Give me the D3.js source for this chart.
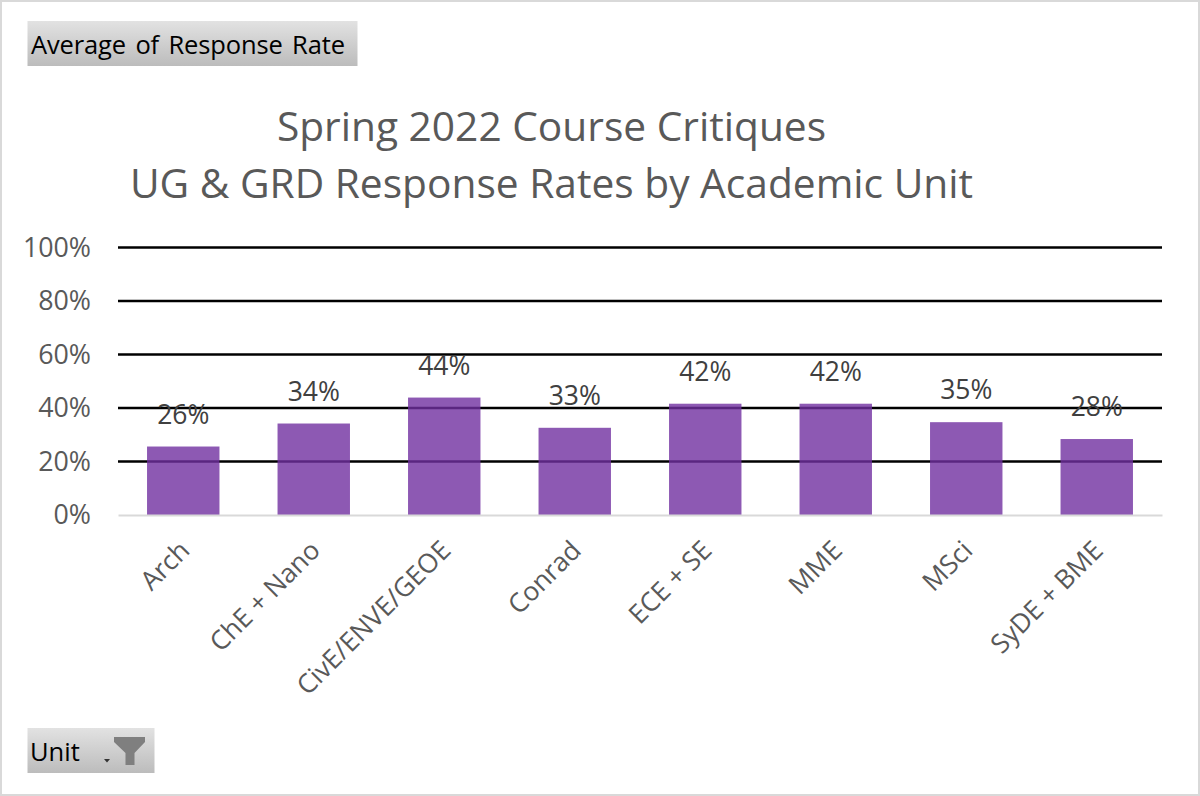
<!DOCTYPE html>
<html>
<head>
<meta charset="utf-8">
<script src="https://cdn.jsdelivr.net/npm/d3@7/dist/d3.min.js"></script>
<style>
  html, body { margin: 0; padding: 0; background: #fff; }
  svg { display: block; }
  svg text { font-family: "Open Sans", "Noto Sans", sans-serif; }
</style>
</head>
<body>
<svg id="chart" width="1200" height="796"></svg>
<script>
const units = ["Arch", "ChE + Nano", "CivE/ENVE/GEOE", "Conrad", "ECE + SE", "MME", "MSci", "SyDE + BME"];
const responseRates = [0.256, 0.342, 0.439, 0.326, 0.416, 0.416, 0.347, 0.284];
const rateTicks = [0, 0.2, 0.4, 0.6, 0.8, 1];
const titleLines = ["Spring 2022 Course Critiques", "UG & GRD Response Rates by Academic Unit"];

const svg = d3.select("#chart");
const width = 1200, height = 796;
const plot = { left: 118, right: 1162, top: 247.5, bottom: 515 };

const x = d3.scaleBand().domain(units).range([plot.left, plot.right]).paddingInner(0.445).paddingOuter(0.2225);
const y = d3.scaleLinear().domain([0, 1]).range([plot.bottom, plot.top]);
const pct = d3.format(".0%");

// Button-style field gradient
const defs = svg.append("defs");
const grad = defs.append("linearGradient").attr("id", "fieldFill").attr("x1", 0).attr("y1", 0).attr("x2", 0).attr("y2", 1);
grad.append("stop").attr("offset", "0%").attr("stop-color", "#e2e2e2");
grad.append("stop").attr("offset", "100%").attr("stop-color", "#bcbcbc");

// Outer frame
svg.append("rect").attr("x", 1).attr("y", 1).attr("width", width - 2).attr("height", height - 2)
  .attr("fill", "#fff").attr("stroke", "#d9d9d9").attr("stroke-width", 2);

// Pivot field buttons
svg.append("rect").attr("x", 27.5).attr("y", 21).attr("width", 330).attr("height", 45).attr("fill", "url(#fieldFill)");
svg.append("text").attr("x", 31).attr("y", 54).attr("font-size", 25.5).attr("fill", "#000")
  .attr("word-spacing", 3).attr("textLength", 314).text("Average of Response Rate");

svg.append("rect").attr("x", 27.5).attr("y", 728).attr("width", 127).attr("height", 45).attr("fill", "url(#fieldFill)");
svg.append("text").attr("x", 30).attr("y", 761).attr("font-size", 25.5).attr("fill", "#000").text("Unit");
svg.append("path").attr("d", "M104,759h6l-3,3.5z").attr("fill", "#333");
svg.append("path").attr("d", "M114,737h31v5l-10.5,11v12h-9v-12l-11.5,-11z").attr("fill", "#7f7f7f");

// Title
svg.append("g").selectAll("text").data(titleLines).join("text")
  .attr("x", 551.5)
  .attr("y", (d, i) => i === 0 ? 141 : 198)
  .attr("text-anchor", "middle").attr("font-size", 40.7).attr("fill", "#595959")
  .text(d => d);

// Horizontal gridlines
svg.append("g").selectAll("line").data(rateTicks.filter(t => t > 0)).join("line")
  .attr("x1", plot.left).attr("x2", plot.right)
  .attr("y1", d => y(d)).attr("y2", d => y(d))
  .attr("stroke", "#000").attr("stroke-width", 2.4);

// Value axis
const yAxis = d3.axisLeft(y).tickValues(rateTicks).tickFormat(pct).tickSize(0).tickPadding(27);
const yG = svg.append("g").attr("transform", `translate(${plot.left},0)`).call(yAxis);
yG.select(".domain").remove();
yG.selectAll("text").attr("font-size", 26.8).attr("fill", "#595959");

// Bars sit over the gridlines and let them show through
svg.append("g").selectAll("rect").data(responseRates).join("rect")
  .attr("x", (d, i) => x(units[i]))
  .attr("y", d => y(d))
  .attr("width", x.bandwidth())
  .attr("height", d => y(0) - y(d))
  .attr("fill", "#7030a0").attr("fill-opacity", 0.8);

// Category baseline and rotated labels
const xAxis = d3.axisBottom(x).tickSize(0).tickPadding(0);
const xG = svg.append("g").attr("transform", `translate(0,${plot.bottom})`).call(xAxis);
xG.select(".domain").attr("stroke", "#d9d9d9").attr("stroke-width", 2);
xG.selectAll("text")
  .attr("font-size", 26.4).attr("fill", "#595959")
  .attr("text-anchor", "end").attr("dy", 0).attr("y", 0)
  .attr("transform", "translate(8,37) rotate(-45)");

// Data labels
svg.append("g").selectAll("text").data(responseRates).join("text")
  .attr("x", (d, i) => x(units[i]) + x.bandwidth() / 2)
  .attr("y", d => y(d) - 23)
  .attr("text-anchor", "middle").attr("font-size", 26.5).attr("fill", "#404040")
  .text(d => pct(d));
</script>
</body>
</html>
